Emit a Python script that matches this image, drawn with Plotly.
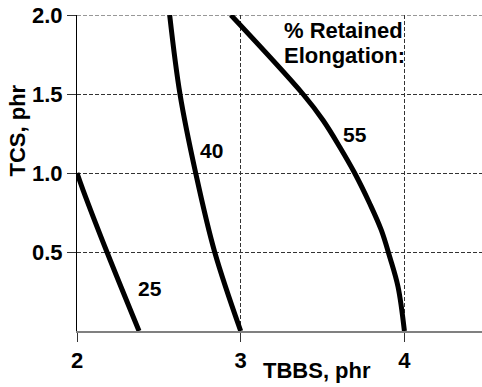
import plotly.graph_objects as go

# Contours of % retained elongation: TBBS (x) vs TCS (y), both in phr
tbbs_25 = [2.0, 2.037, 2.183, 2.379]
tcs_25 = [1.0, 0.892, 0.5, 0.0]

tbbs_40 = [2.566, 2.629, 2.725, 2.841, 3.0]
tcs_40 = [2.0, 1.5, 1.0, 0.5, 0.0]

tbbs_55 = [2.94, 3.38, 3.503, 3.605, 3.696, 3.788, 3.859, 3.91, 3.961, 4.0]
tcs_55 = [2.0, 1.5, 1.334, 1.165, 1.0, 0.807, 0.638, 0.47, 0.28, 0.0]

contour_labels = ["25", "40", "55"]
label_x = [2.446, 2.823, 3.697]
label_y = [0.27, 1.143, 1.245]

x_ticks = [2, 3, 4]
y_ticks = [0.5, 1.0, 1.5, 2.0]
y_tick_text = ["0.5", "1.0", "1.5", "2.0"]

FONT = "Arial, Liberation Sans, sans-serif"
fig = go.Figure()

for xs, ys in [(tbbs_25, tcs_25), (tbbs_40, tcs_40), (tbbs_55, tcs_55)]:
    fig.add_trace(go.Scatter(
        x=xs, y=ys, mode="lines",
        line=dict(color="black", width=5, shape="spline", smoothing=1.0),
        showlegend=False, hoverinfo="skip", cliponaxis=False,
    ))

annotations = []
for t, lx, ly in zip(contour_labels, label_x, label_y):
    annotations.append(dict(x=lx, y=ly, xref="x", yref="y", text=f"<b>{t}</b>",
                            showarrow=False, font=dict(family=FONT, size=21, color="black")))

# Heading for the contour values
annotations.append(dict(x=3.25, y=1.904, xref="x", yref="y", text="<b>% Retained</b>",
                        xanchor="left", yanchor="middle", showarrow=False,
                        font=dict(family=FONT, size=22, color="black")))
annotations.append(dict(x=3.25, y=1.746, xref="x", yref="y", text="<b>Elongation:</b>",
                        xanchor="left", yanchor="middle", showarrow=False,
                        font=dict(family=FONT, size=22, color="black")))

# Axis titles
annotations.append(dict(x=0.593, y=-0.126, xref="paper", yref="paper", text="<b>TBBS, phr</b>",
                        xanchor="center", yanchor="middle", showarrow=False,
                        font=dict(family=FONT, size=22, color="black")))
annotations.append(dict(x=-0.147, y=0.636, xref="paper", yref="paper", text="<b>TCS, phr</b>",
                        xanchor="center", yanchor="middle", textangle=-90, showarrow=False,
                        font=dict(family=FONT, size=22, color="black")))

fig.update_layout(
    width=482, height=387,
    margin=dict(l=77, r=0, t=15, b=56),
    paper_bgcolor="white", plot_bgcolor="white",
    annotations=annotations,
    font=dict(family=FONT, size=22, color="black"),
    # dashed gridline along the top edge (y = 2.0)
    shapes=[dict(type="line", xref="paper", yref="y", x0=0, x1=1, y0=2, y1=2,
                 line=dict(color="#333333", width=1, dash="4px,2px"), layer="below")],
)

fig.update_xaxes(
    range=[2, 4.474], tickvals=x_ticks, ticktext=[f"<b>{v}</b>" for v in x_ticks],
    showgrid=True, gridcolor="#333333", griddash="4px,2px", gridwidth=1,
    zeroline=False, showline=True, linecolor="#808080", linewidth=1.5,
    ticks="outside", ticklen=9, tickcolor="#333333",
    tickfont=dict(family=FONT, size=22, color="black"),
)
fig.update_yaxes(
    range=[0, 2], tickvals=y_ticks, ticktext=[f"<b>{t}</b>" for t in y_tick_text],
    showgrid=True, gridcolor="#333333", griddash="4px,2px", gridwidth=1,
    zeroline=False, showline=True, linecolor="black", linewidth=1,
    ticks="outside", ticklen=9, tickcolor="#333333",
    tickfont=dict(family=FONT, size=22, color="black"),
)

fig.write_html("out.html")
